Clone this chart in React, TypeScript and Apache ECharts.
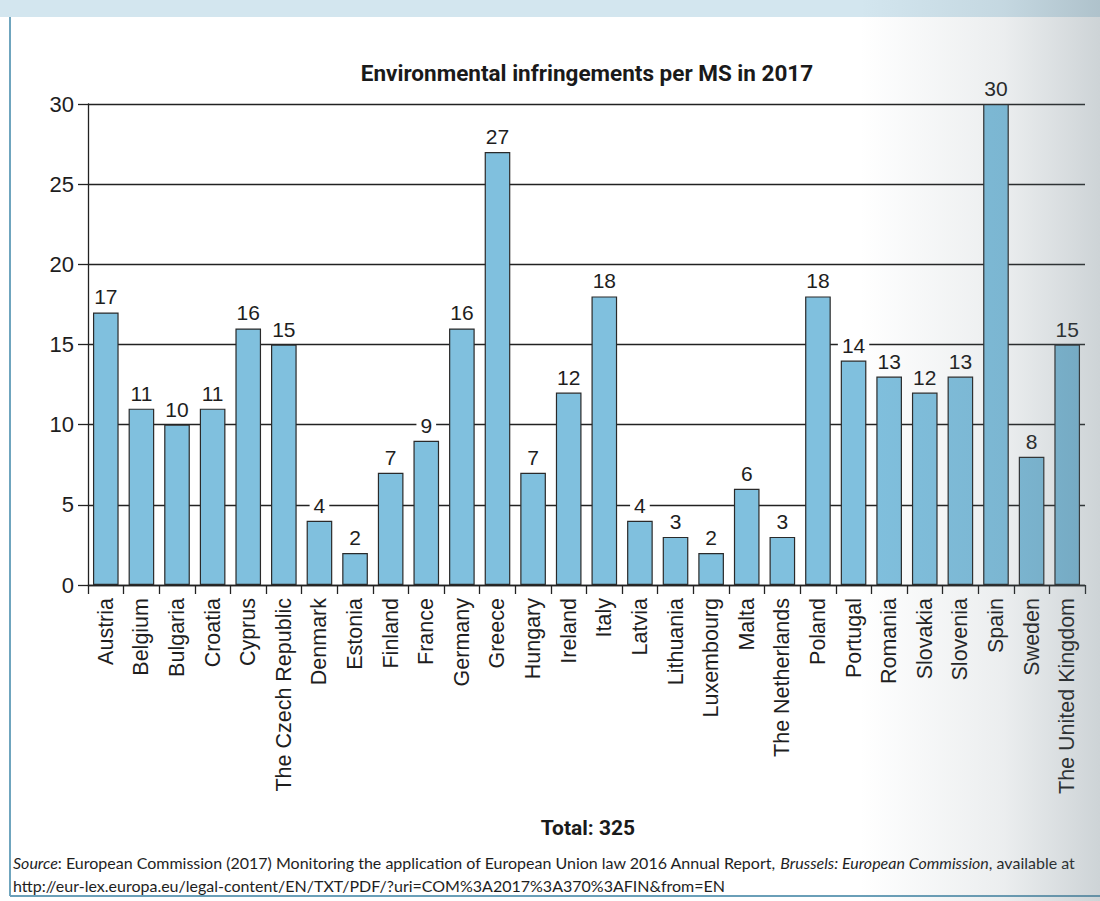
import React, { useEffect, useRef } from "react";
import * as echarts from "echarts";

const countries = [
  "Austria", "Belgium", "Bulgaria", "Croatia", "Cyprus", "The Czech Republic",
  "Denmark", "Estonia", "Finland", "France", "Germany", "Greece", "Hungary",
  "Ireland", "Italy", "Latvia", "Lithuania", "Luxembourg", "Malta",
  "The Netherlands", "Poland", "Portugal", "Romania", "Slovakia", "Slovenia",
  "Spain", "Sweden", "The United Kingdom",
];
const infringements = [
  17, 11, 10, 11, 16, 15, 4, 2, 7, 9, 16, 27, 7, 12, 18, 4, 3, 2, 6, 3, 18, 14,
  13, 12, 13, 30, 8, 15,
];
const titleText = "Environmental infringements per MS in 2017";
const totalText = "Total: 325";

const NARROW = "Roboto, 'Liberation Sans', sans-serif";
const SANS = "'Liberation Sans', Arial, sans-serif";
const SRC = "Lato, 'Open Sans', sans-serif";

export default function App() {
  const ref = useRef<HTMLDivElement>(null);
  useEffect(() => {
    if (!ref.current) return;
    const chart = echarts.init(ref.current, null, { renderer: "svg" });
    chart.setOption({
      animation: false,
      backgroundColor: "#ffffff",
      title: {
        text: titleText,
        left: 582,
        textAlign: "center",
        top: 56,
        textStyle: { fontFamily: NARROW, fontSize: 22.5, fontWeight: "bold", color: "#1a1a1a" },
      },
      grid: { left: 88, right: 15, top: 104, bottom: 316 },
      xAxis: {
        type: "category",
        data: countries,
        boundaryGap: true,
        axisLine: { lineStyle: { color: "#222", width: 1.3 } },
        axisTick: { show: true, length: 9, lineStyle: { color: "#222", width: 1.3 } },
        axisLabel: {
          rotate: 90,
          interval: 0,
          margin: 13,
          fontFamily: SANS,
          fontSize: 21.5,
          color: "#1e1e1e",
        },
      },
      yAxis: {
        type: "value",
        min: 0,
        max: 30,
        interval: 5,
        axisLine: { show: true, lineStyle: { color: "#222", width: 1.3 } },
        axisTick: { show: true, length: 10, lineStyle: { color: "#222", width: 1.3 } },
        axisLabel: { fontFamily: SANS, fontSize: 22, color: "#1e1e1e", margin: 14 },
        splitLine: { lineStyle: { color: "#222", width: 1.3 } },
      },
      series: [
        {
          type: "bar",
          data: infringements,
          barCategoryGap: "28%",
          itemStyle: { color: "#80c0de", borderColor: "#2a2a2a", borderWidth: 1.2 },
          label: {
            show: true,
            position: "top",
            distance: 5,
            fontFamily: SANS,
            fontSize: 21,
            color: "#1e1e1e",
            backgroundColor: "#ffffff",
            padding: [1, 4, 0, 4],
          },
        },
      ],
      graphic: [
        { type: "rect", shape: { x: 0, y: 0, width: 1100, height: 17 }, style: { fill: "#d3e6ef" }, silent: true },
        { type: "line", shape: { x1: 10, y1: 17, x2: 10, y2: 896 }, style: { stroke: "#3f87a8", lineWidth: 1.5 }, silent: true },
        { type: "line", shape: { x1: 10, y1: 896, x2: 1100, y2: 896 }, style: { stroke: "#6a9fb8", lineWidth: 2 }, silent: true },
        {
          type: "text",
          x: 588,
          y: 828,
          style: {
            text: totalText,
            fontFamily: NARROW,
            fontSize: 21,
            fontWeight: "bold",
            fill: "#1a1a1a",
            textAlign: "center",
            textVerticalAlign: "middle",
          },
        },
        {
          type: "text",
          x: 13,
          y: 862,
          style: {
            text: "{i|Source}: European Commission (2017) Monitoring the application of European Union law 2016 Annual Report, {i|Brussels: European Commission}, available at",
            rich: {
              i: { fontFamily: SRC, fontSize: 16, fontStyle: "italic", fill: "#1e1e1e" },
            },
            fontFamily: SRC,
            fontSize: 16,
            fill: "#1e1e1e",
            textVerticalAlign: "middle",
          },
        },
        {
          type: "text",
          x: 13,
          y: 885,
          style: {
            text: "http://eur-lex.europa.eu/legal-content/EN/TXT/PDF/?uri=COM%3A2017%3A370%3AFIN&from=EN",
            fontFamily: SRC,
            fontSize: 16,
            fill: "#1e1e1e",
            textVerticalAlign: "middle",
          },
        },
        {
          type: "rect",
          z: 100,
          silent: true,
          shape: { x: 860, y: 0, width: 240, height: 901 },
          style: {
            fill: new echarts.graphic.LinearGradient(0, 0, 1, 0, [
              { offset: 0, color: "rgba(90,110,120,0)" },
              { offset: 0.6, color: "rgba(90,110,120,0.12)" },
              { offset: 1, color: "rgba(90,110,120,0.3)" },
            ]),
          },
        },
      ],
    });
    return () => chart.dispose();
  }, []);
  return (
    <div
      ref={ref}
      style={{ position: "absolute", left: 0, top: 0, width: 1100, height: 901 }}
    />
  );
}
